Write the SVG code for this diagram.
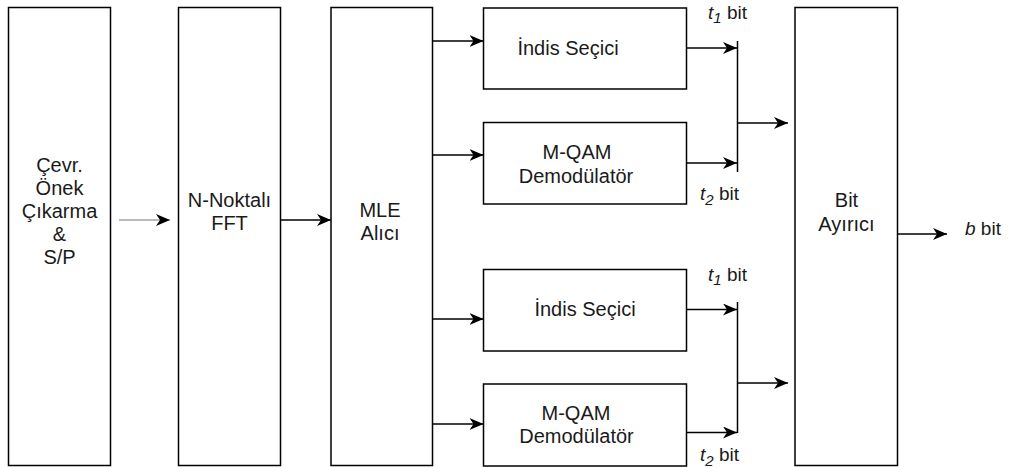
<svg xmlns="http://www.w3.org/2000/svg" width="1009" height="468" viewBox="0 0 1009 468">
<style>
.box{fill:#fff;stroke:#000;stroke-width:1.5}
.lbl{font-family:"Liberation Sans",Arial,sans-serif;font-size:20px;fill:#1a1a1a;text-anchor:middle}
.tl{font-family:"Liberation Sans",Arial,sans-serif;font-size:19px;fill:#1a1a1a}
.c{stroke:#000;stroke-width:1.5;fill:none}
</style>
<defs>
<marker id="ah" viewBox="0 0 14 12" refX="14" refY="6" markerWidth="14" markerHeight="12" markerUnits="userSpaceOnUse" orient="auto">
<path d="M0,0 L14,6 L0,12 L4,6 z" fill="#000"/>
</marker>
</defs>
<rect width="1009" height="468" fill="#fff"/>
<g id="n-cp">
<rect class="box" x="8.5" y="7.5" width="102" height="458"/>
<text class="lbl" x="59.5" y="172">Çevr.</text>
<text class="lbl" x="59.5" y="195">Önek</text>
<text class="lbl" x="59.5" y="218">Çıkarma</text>
<text class="lbl" x="59.5" y="241">&amp;</text>
<text class="lbl" x="59.5" y="264">S/P</text>
</g>
<g id="n-fft">
<rect class="box" x="178.5" y="7.5" width="102" height="458"/>
<text class="lbl" x="229.5" y="207">N-Noktalı</text>
<text class="lbl" x="229.5" y="230">FFT</text>
</g>
<g id="n-mle">
<rect class="box" x="331" y="7.5" width="101.5" height="458"/>
<text class="lbl" x="380" y="217">MLE</text>
<text class="lbl" x="380" y="240">Alıcı</text>
</g>
<g id="n-is1">
<rect class="box" x="483.5" y="8" width="203" height="81"/>
<text class="lbl" x="568" y="55">İndis Seçici</text>
</g>
<g id="n-qam1">
<rect class="box" x="483.5" y="122.5" width="203" height="81.5"/>
<text class="lbl" x="577" y="159">M-QAM</text>
<text class="lbl" x="576" y="182.5">Demodülatör</text>
</g>
<g id="n-is2">
<rect class="box" x="483.5" y="269.5" width="203" height="81.5"/>
<text class="lbl" x="585" y="316">İndis Seçici</text>
</g>
<g id="n-qam2">
<rect class="box" x="483.5" y="384" width="203" height="82"/>
<text class="lbl" x="576" y="420">M-QAM</text>
<text class="lbl" x="576.5" y="443">Demodülatör</text>
</g>
<g id="n-bit">
<rect class="box" x="795" y="7.5" width="102.5" height="458"/>
<text class="lbl" x="846.5" y="207">Bit</text>
<text class="lbl" x="846.5" y="231">Ayırıcı</text>
</g>
<g id="connectors">
<line x1="119" y1="220" x2="170" y2="220" stroke="#777" stroke-width="1" marker-end="url(#ah)"/>
<line class="c" x1="280.5" y1="220" x2="331" y2="220" marker-end="url(#ah)"/>
<line class="c" x1="432.5" y1="41" x2="483.5" y2="41" marker-end="url(#ah)"/>
<line class="c" x1="432.5" y1="155" x2="483.5" y2="155" marker-end="url(#ah)"/>
<line class="c" x1="432.5" y1="319" x2="483.5" y2="319" marker-end="url(#ah)"/>
<line class="c" x1="432.5" y1="424" x2="483.5" y2="424" marker-end="url(#ah)"/>
<line class="c" x1="686.5" y1="48" x2="737" y2="48" marker-end="url(#ah)"/>
<line class="c" x1="686.5" y1="163" x2="737" y2="163" marker-end="url(#ah)"/>
<line class="c" x1="737.5" y1="41" x2="737.5" y2="172"/>
<line class="c" x1="737.5" y1="123" x2="788" y2="123" marker-end="url(#ah)"/>
<line class="c" x1="686.5" y1="309.5" x2="737" y2="309.5" marker-end="url(#ah)"/>
<line class="c" x1="686.5" y1="432.5" x2="737" y2="432.5" marker-end="url(#ah)"/>
<line class="c" x1="737.5" y1="302" x2="737.5" y2="433"/>
<line class="c" x1="737.5" y1="383" x2="788" y2="383" marker-end="url(#ah)"/>
<line class="c" x1="897.5" y1="234" x2="947" y2="234" marker-end="url(#ah)"/>
</g>
<g id="labels">
<text class="tl" x="708" y="19"><tspan font-style="italic">t</tspan><tspan font-style="italic" font-size="15" dy="4">1</tspan><tspan dy="-4"> bit</tspan></text>
<text class="tl" x="700" y="200"><tspan font-style="italic">t</tspan><tspan font-style="italic" font-size="15" dy="5">2</tspan><tspan dy="-5"> bit</tspan></text>
<text class="tl" x="708" y="281"><tspan font-style="italic">t</tspan><tspan font-style="italic" font-size="15" dy="4">1</tspan><tspan dy="-4"> bit</tspan></text>
<text class="tl" x="700" y="461"><tspan font-style="italic">t</tspan><tspan font-style="italic" font-size="15" dy="5">2</tspan><tspan dy="-5"> bit</tspan></text>
<text class="tl" x="965" y="235"><tspan font-style="italic">b</tspan> bit</text>
</g>
</svg>
